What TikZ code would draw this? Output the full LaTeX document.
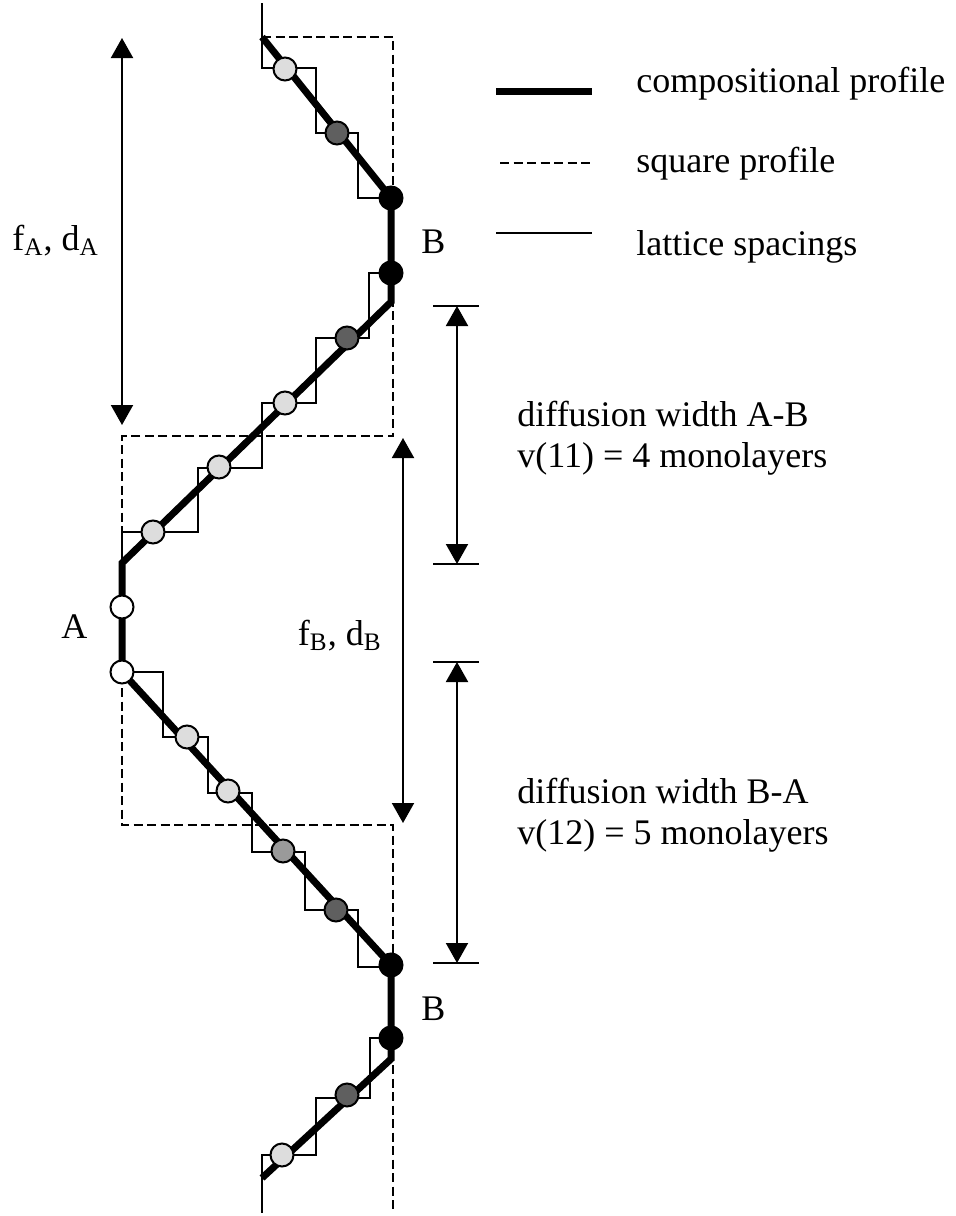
\documentclass[tikz,border=0pt]{standalone}
\usepackage{fontspec}
\setmainfont{Liberation Serif}
\usetikzlibrary{arrows.meta}
\definecolor{lgray}{HTML}{DDDDDD}
\definecolor{mgray}{HTML}{9A9A9A}
\definecolor{dgray}{HTML}{5F5F5F}
\begin{document}
\begin{tikzpicture}[x=0.5pt,y=-0.5pt,
  comp/.style={line width=3.5pt, line join=miter},
  sq/.style={line width=1pt, dash pattern=on 4.5pt off 2.25pt},
  lat/.style={line width=1pt},
  dim/.style={line width=1pt, {Triangle[width=11pt,length=10pt]}-{Triangle[width=11pt,length=10pt]}},
  dot/.style={circle, draw=black, line width=1pt, minimum size=11.5pt, inner sep=0pt},
  lbl/.style={font=\fontsize{18}{21.6}\selectfont, inner sep=0pt, anchor=base west}]
\useasboundingbox (0,0) rectangle (956,1216);

% key coordinates
\coordinate (ptop) at (262,37);
\coordinate (pb1) at (391,198);
\coordinate (pb2) at (391,273);
\coordinate (pc1) at (391,302);
\coordinate (pc2) at (122,563);
\coordinate (pw1) at (122,607);
\coordinate (pw2) at (122,672);
\coordinate (pb3) at (391,965);
\coordinate (pb4) at (391,1038);
\coordinate (pc3) at (391,1059);
\coordinate (pbot) at (262,1178);

% square profile
\coordinate (s1) at (393,37);
\coordinate (s2) at (393,436);
\coordinate (s3) at (122,436);
\coordinate (s4) at (122,825);
\coordinate (s5) at (393,825);
\coordinate (s6) at (393,1213);
\draw[sq] (ptop) -- (s1) -- (s2) -- (s3) -- (s4) -- (s5) -- (s6);

% lattice spacings
\coordinate (l0) at (262,3);
\draw[lat] (l0) |- (316,68) |- (358,133) |- (pb1);
\draw[lat] (pb2) -| (369,338) -| (316,403) -| (262,468) -| (198,532) -| (pc2);
\draw[lat] (pw2) -| (163,737) -| (208,793) -| (252,852) -| (305,910) -| (358,967) -- (391,967);
\coordinate (l9) at (262,1213);
\draw[lat] (pb4) -| (370,1098) -| (316,1155) -| (l9);

% compositional profile
\draw[comp] (ptop) -- (pb1) -- (pc1) -- (pc2) -- (pw2) -- (pb3) -- (pc3) -- (pbot);

% atoms
\node[dot, fill=lgray] (d1) at (285,69) {};
\node[dot, fill=dgray] (d2) at (337,133) {};
\node[dot, fill=black] (b1) at (pb1) {};
\node[dot, fill=black] (b2) at (pb2) {};
\node[dot, fill=dgray] (d3) at (347,338) {};
\node[dot, fill=lgray] (d4) at (285,403) {};
\node[dot, fill=lgray] (d5) at (219,467) {};
\node[dot, fill=lgray] (d6) at (153,532) {};
\node[dot, fill=white] (w1) at (pw1) {};
\node[dot, fill=white] (w2) at (pw2) {};
\node[dot, fill=lgray] (d7) at (187,737) {};
\node[dot, fill=lgray] (d8) at (228,791) {};
\node[dot, fill=mgray] (d9) at (283,851) {};
\node[dot, fill=dgray] (d10) at (336,910) {};
\node[dot, fill=black] (b3) at (pb3) {};
\node[dot, fill=black] (b4) at (pb4) {};
\node[dot, fill=dgray] (d11) at (347,1095) {};
\node[dot, fill=lgray] (d12) at (282,1155) {};

% dimension arrows
\coordinate (fa1) at (122,38);
\coordinate (fa2) at (122,425);
\draw[dim] (fa1) -- (fa2);
\coordinate (fb1) at (403,438);
\coordinate (fb2) at (403,823);
\draw[dim] (fb1) -- (fb2);

\coordinate (ab1) at (457,306);
\coordinate (ab2) at (457,564);
\draw[dim] (ab1) -- (ab2);
\draw[lat] ([xshift=-12pt]ab1) -- ([xshift=11pt]ab1);
\draw[lat] ([xshift=-12pt]ab2) -- ([xshift=11pt]ab2);

\coordinate (ba1) at (457,662);
\coordinate (ba2) at (457,963);
\draw[dim] (ba1) -- (ba2);
\draw[lat] ([xshift=-12pt]ba1) -- ([xshift=11pt]ba1);
\draw[lat] ([xshift=-12pt]ba2) -- ([xshift=11pt]ba2);

% labels
\node[lbl] (tfa) at (12,250) {f\textsubscript{A}, d\textsubscript{A}};
\node[lbl] (tb1) at (421,253) {B};
\node[lbl] (ta) at (61,638) {A};
\node[lbl, anchor=base east] (tfb) at (382,645) {f\textsubscript{B}, d\textsubscript{B}};
\node[lbl] (tb2) at (421,1020) {B};
\node[lbl] (tab1) at (517,426) {diffusion width A-B};
\node[lbl] (tab2) at (517,467) {v(11) = 4 monolayers};
\node[lbl] (tba1) at (517,803) {diffusion width B-A};
\node[lbl] (tba2) at (517,844) {v(12) = 5 monolayers};

% legend
\coordinate (g1a) at (496,91);
\coordinate (g1b) at (592,91);
\draw[comp] (g1a) -- (g1b);
\coordinate (g2a) at (500,163);
\coordinate (g2b) at (592,163);
\draw[sq] (g2a) -- (g2b);
\coordinate (g3a) at (496,233);
\coordinate (g3b) at (592,233);
\draw[lat] (g3a) -- (g3b);
\node[lbl] (lg1) at (636,92) {compositional profile};
\node[lbl] (lg2) at (636,172) {square profile};
\node[lbl] (lg3) at (636,255) {lattice spacings};
\end{tikzpicture}
\end{document}
